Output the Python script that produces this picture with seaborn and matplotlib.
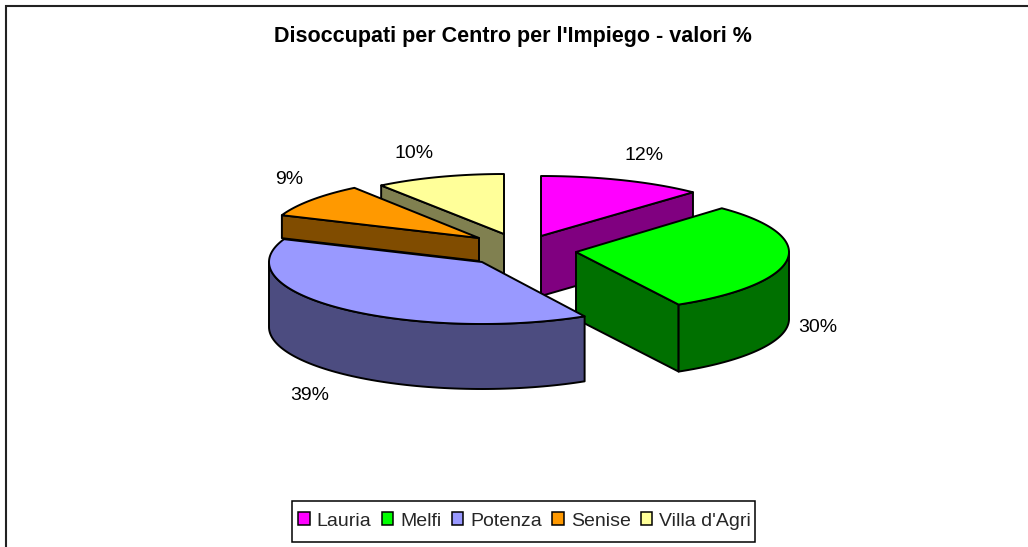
import numpy as np
import matplotlib
matplotlib.use("Agg")
import matplotlib.pyplot as plt
from matplotlib.patches import Patch, Polygon, Rectangle
import seaborn as sns

# values
centri = ["Lauria", "Melfi", "Potenza", "Senise", "Villa d'Agri"]
valori = [12, 30, 39, 9, 10]
titolo = "Disoccupati per Centro per l'Impiego - valori %"

colori = ["#FF00FF", "#00FF00", "#9999FF", "#FF9900", "#FFFF99"]
ombre = ["#800080", "#007000", "#4C4C80", "#804C00", "#808050"]

# exploded position of each slice, in pixels (apex x, apex y, rx, ry, depth)
apici = [(541, 236, 222, 60, 60), (576, 252, 213, 60, 67), (482, 262, 213, 62, 65),
         (479, 238, 212, 62, 23), (504, 234, 209, 60, 40)]
etichette_xy = [(644, 155), (818, 328), (310, 395), (289, 180), (414, 153)]

sns.set_theme(style="white")
plt.rcParams["font.family"] = ["Liberation Sans", "DejaVu Sans"]

fig = plt.figure(figsize=(10.28, 5.47), dpi=100)
ax = fig.add_axes([0, 0, 1, 1])
ax.set_xlim(0, 1028)
ax.set_ylim(547, 0)
ax.axis("off")

# frame, only top and left are inside the picture
ax.plot([5.5, 5.5, 1028], [547, 5.5, 5.5], color="#222222", lw=1.5, solid_joinstyle="miter")

perc = np.array(valori) / sum(valori)
fine = np.cumsum(perc) * 2 * np.pi
inizio = np.concatenate([[0], fine[:-1]])


def punti(ap, a):
    return ap[0] + ap[2] * np.sin(a), ap[1] - ap[3] * np.cos(a)


def disegna(i, z):
    ap = apici[i]
    a1, a2 = inizio[i], fine[i]
    d = ap[4]
    stile = dict(edgecolor="black", lw=1.4, joinstyle="round", zorder=z)
    x0, y0 = ap[0], ap[1]
    # radial side walls, only the ones facing the viewer
    for a, vis in [(a1, np.sin(a1) < -1e-6), (a2, np.sin(a2) > 1e-6)]:
        if vis:
            x, y = punti(ap, a)
            ax.add_patch(Polygon([(x0, y0), (x, y), (x, y + d), (x0, y0 + d)], facecolor=ombre[i], **stile))
    # curved wall
    b1, b2 = max(a1, np.pi / 2), min(a2, 3 * np.pi / 2)
    if b2 > b1:
        t = np.linspace(b1, b2, 80)
        x, y = punti(ap, t)
        pts = np.r_[np.c_[x, y], np.c_[x, y + d][::-1]]
        ax.add_patch(Polygon(pts, facecolor=ombre[i], **stile))
    # top
    t = np.linspace(a1, a2, 120)
    x, y = punti(ap, t)
    pts = np.r_[[(x0, y0)], np.c_[x, y]]
    ax.add_patch(Polygon(pts, facecolor=colori[i], **stile))


# back to front
for z, i in enumerate([4, 0, 3, 1, 2]):
    disegna(i, z + 2)

for v, (x, y) in zip(valori, etichette_xy):
    ax.text(x, y, f"{v}%", fontsize=14, ha="center", va="center", color="black", zorder=10)

ax.text(512.5, 36.5, titolo, fontsize=15.5, fontweight="bold", ha="center", va="center", color="black")

# legend box is tight on the right side, so it is drawn apart from the entries
ax.add_patch(Rectangle((291.5, 500.5), 463, 41, facecolor="white", edgecolor="black", lw=1.1, zorder=8))
maniglie = [Patch(facecolor=c, edgecolor="black", lw=1.1) for c in colori]
leg = ax.legend(maniglie, centri, ncol=5, loc="center left", bbox_to_anchor=(298 / 1028, 1 - 521 / 547),
                fontsize=14, frameon=False, handlelength=0.6, handleheight=0.6, handletextpad=0.36,
                columnspacing=0.52, borderpad=0, borderaxespad=0)
leg.set_zorder(9)

fig.savefig("out.png", dpi=100)
